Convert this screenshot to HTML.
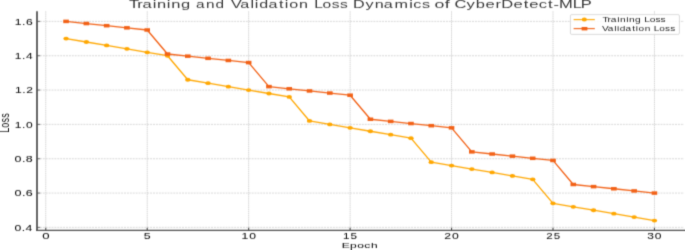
<!DOCTYPE html>
<html><head><meta charset="utf-8"><title>Training and Validation Loss Dynamics of CyberDetect-MLP</title><style>
html,body{margin:0;padding:0;background:#fff;}
body{width:685px;height:250px;overflow:hidden;}
svg{display:block;will-change:transform;}
text{font-family:"Liberation Sans",sans-serif;}
</style></head><body>
<svg width="685" height="250" viewBox="0 0 685 250">
<defs><filter id="soft" x="0" y="0" width="685" height="250" filterUnits="userSpaceOnUse" color-interpolation-filters="sRGB"><feConvolveMatrix order="3" kernelMatrix="1 6 1 4 24 4 1 6 1" divisor="48" edgeMode="duplicate"/></filter></defs>
<g filter="url(#soft)">
<rect width="685" height="250" fill="#fff"/>
<line x1="45.77" y1="11.3" x2="45.77" y2="230.3" stroke="#cfcfcf" stroke-width="0.9" stroke-dasharray="1.4 0.7"/>
<line x1="147.22" y1="11.3" x2="147.22" y2="230.3" stroke="#cfcfcf" stroke-width="0.9" stroke-dasharray="1.4 0.7"/>
<line x1="248.66" y1="11.3" x2="248.66" y2="230.3" stroke="#cfcfcf" stroke-width="0.9" stroke-dasharray="1.4 0.7"/>
<line x1="350.11" y1="11.3" x2="350.11" y2="230.3" stroke="#cfcfcf" stroke-width="0.9" stroke-dasharray="1.4 0.7"/>
<line x1="451.55" y1="11.3" x2="451.55" y2="230.3" stroke="#cfcfcf" stroke-width="0.9" stroke-dasharray="1.4 0.7"/>
<line x1="553" y1="11.3" x2="553" y2="230.3" stroke="#cfcfcf" stroke-width="0.9" stroke-dasharray="1.4 0.7"/>
<line x1="654.44" y1="11.3" x2="654.44" y2="230.3" stroke="#cfcfcf" stroke-width="0.9" stroke-dasharray="1.4 0.7"/>
<line x1="37" y1="227.4" x2="684" y2="227.4" stroke="#cfcfcf" stroke-width="0.8" stroke-dasharray="2.0 0.9"/>
<line x1="37" y1="193.07" x2="684" y2="193.07" stroke="#cfcfcf" stroke-width="0.8" stroke-dasharray="2.0 0.9"/>
<line x1="37" y1="158.73" x2="684" y2="158.73" stroke="#cfcfcf" stroke-width="0.8" stroke-dasharray="2.0 0.9"/>
<line x1="37" y1="124.4" x2="684" y2="124.4" stroke="#cfcfcf" stroke-width="0.8" stroke-dasharray="2.0 0.9"/>
<line x1="37" y1="90.06" x2="684" y2="90.06" stroke="#cfcfcf" stroke-width="0.8" stroke-dasharray="2.0 0.9"/>
<line x1="37" y1="55.73" x2="684" y2="55.73" stroke="#cfcfcf" stroke-width="0.8" stroke-dasharray="2.0 0.9"/>
<line x1="37" y1="21.4" x2="684" y2="21.4" stroke="#cfcfcf" stroke-width="0.8" stroke-dasharray="2.0 0.9"/>
<polyline points="66.06,38.56 86.35,42 106.64,45.43 126.93,48.86 147.22,52.3 167.5,55.73 187.79,79.76 208.08,83.2 228.37,86.63 248.66,90.06 268.95,93.5 289.24,96.93 309.53,120.96 329.82,124.4 350.11,127.83 370.39,131.26 390.68,134.7 410.97,138.13 431.26,162.17 451.55,165.6 471.84,169.03 492.13,172.47 512.42,175.9 532.71,179.33 553,203.37 573.28,206.8 593.57,210.23 613.86,213.67 634.15,217.1 654.44,220.53" fill="none" stroke="#FFA700" stroke-width="1.3" stroke-linejoin="round"/>
<polyline points="66.06,21.4 86.35,23.54 106.64,25.69 126.93,27.83 147.22,29.98 167.5,54.01 187.79,56.16 208.08,58.31 228.37,60.45 248.66,62.6 268.95,86.63 289.24,88.78 309.53,90.92 329.82,93.07 350.11,95.21 370.39,119.25 390.68,121.39 410.97,123.54 431.26,125.69 451.55,127.83 471.84,151.87 492.13,154.01 512.42,156.16 532.71,158.3 553,160.45 573.28,184.48 593.57,186.63 613.86,188.77 634.15,190.92 654.44,193.07" fill="none" stroke="#F26116" stroke-width="1.3" stroke-linejoin="round"/>
<ellipse cx="66.06" cy="38.56" rx="2.7" ry="1.9" fill="#FFA700"/>
<ellipse cx="86.35" cy="42" rx="2.7" ry="1.9" fill="#FFA700"/>
<ellipse cx="106.64" cy="45.43" rx="2.7" ry="1.9" fill="#FFA700"/>
<ellipse cx="126.93" cy="48.86" rx="2.7" ry="1.9" fill="#FFA700"/>
<ellipse cx="147.22" cy="52.3" rx="2.7" ry="1.9" fill="#FFA700"/>
<ellipse cx="167.5" cy="55.73" rx="2.7" ry="1.9" fill="#FFA700"/>
<ellipse cx="187.79" cy="79.76" rx="2.7" ry="1.9" fill="#FFA700"/>
<ellipse cx="208.08" cy="83.2" rx="2.7" ry="1.9" fill="#FFA700"/>
<ellipse cx="228.37" cy="86.63" rx="2.7" ry="1.9" fill="#FFA700"/>
<ellipse cx="248.66" cy="90.06" rx="2.7" ry="1.9" fill="#FFA700"/>
<ellipse cx="268.95" cy="93.5" rx="2.7" ry="1.9" fill="#FFA700"/>
<ellipse cx="289.24" cy="96.93" rx="2.7" ry="1.9" fill="#FFA700"/>
<ellipse cx="309.53" cy="120.96" rx="2.7" ry="1.9" fill="#FFA700"/>
<ellipse cx="329.82" cy="124.4" rx="2.7" ry="1.9" fill="#FFA700"/>
<ellipse cx="350.11" cy="127.83" rx="2.7" ry="1.9" fill="#FFA700"/>
<ellipse cx="370.39" cy="131.26" rx="2.7" ry="1.9" fill="#FFA700"/>
<ellipse cx="390.68" cy="134.7" rx="2.7" ry="1.9" fill="#FFA700"/>
<ellipse cx="410.97" cy="138.13" rx="2.7" ry="1.9" fill="#FFA700"/>
<ellipse cx="431.26" cy="162.17" rx="2.7" ry="1.9" fill="#FFA700"/>
<ellipse cx="451.55" cy="165.6" rx="2.7" ry="1.9" fill="#FFA700"/>
<ellipse cx="471.84" cy="169.03" rx="2.7" ry="1.9" fill="#FFA700"/>
<ellipse cx="492.13" cy="172.47" rx="2.7" ry="1.9" fill="#FFA700"/>
<ellipse cx="512.42" cy="175.9" rx="2.7" ry="1.9" fill="#FFA700"/>
<ellipse cx="532.71" cy="179.33" rx="2.7" ry="1.9" fill="#FFA700"/>
<ellipse cx="553" cy="203.37" rx="2.7" ry="1.9" fill="#FFA700"/>
<ellipse cx="573.28" cy="206.8" rx="2.7" ry="1.9" fill="#FFA700"/>
<ellipse cx="593.57" cy="210.23" rx="2.7" ry="1.9" fill="#FFA700"/>
<ellipse cx="613.86" cy="213.67" rx="2.7" ry="1.9" fill="#FFA700"/>
<ellipse cx="634.15" cy="217.1" rx="2.7" ry="1.9" fill="#FFA700"/>
<ellipse cx="654.44" cy="220.53" rx="2.7" ry="1.9" fill="#FFA700"/>
<rect x="63.26" y="19.65" width="5.6" height="3.5" fill="#F26116"/>
<rect x="83.55" y="21.79" width="5.6" height="3.5" fill="#F26116"/>
<rect x="103.84" y="23.94" width="5.6" height="3.5" fill="#F26116"/>
<rect x="124.13" y="26.08" width="5.6" height="3.5" fill="#F26116"/>
<rect x="144.41" y="28.23" width="5.6" height="3.5" fill="#F26116"/>
<rect x="164.7" y="52.26" width="5.6" height="3.5" fill="#F26116"/>
<rect x="184.99" y="54.41" width="5.6" height="3.5" fill="#F26116"/>
<rect x="205.28" y="56.56" width="5.6" height="3.5" fill="#F26116"/>
<rect x="225.57" y="58.7" width="5.6" height="3.5" fill="#F26116"/>
<rect x="245.86" y="60.85" width="5.6" height="3.5" fill="#F26116"/>
<rect x="266.15" y="84.88" width="5.6" height="3.5" fill="#F26116"/>
<rect x="286.44" y="87.03" width="5.6" height="3.5" fill="#F26116"/>
<rect x="306.73" y="89.17" width="5.6" height="3.5" fill="#F26116"/>
<rect x="327.02" y="91.32" width="5.6" height="3.5" fill="#F26116"/>
<rect x="347.31" y="93.46" width="5.6" height="3.5" fill="#F26116"/>
<rect x="367.59" y="117.5" width="5.6" height="3.5" fill="#F26116"/>
<rect x="387.88" y="119.64" width="5.6" height="3.5" fill="#F26116"/>
<rect x="408.17" y="121.79" width="5.6" height="3.5" fill="#F26116"/>
<rect x="428.46" y="123.94" width="5.6" height="3.5" fill="#F26116"/>
<rect x="448.75" y="126.08" width="5.6" height="3.5" fill="#F26116"/>
<rect x="469.04" y="150.12" width="5.6" height="3.5" fill="#F26116"/>
<rect x="489.33" y="152.26" width="5.6" height="3.5" fill="#F26116"/>
<rect x="509.62" y="154.41" width="5.6" height="3.5" fill="#F26116"/>
<rect x="529.91" y="156.55" width="5.6" height="3.5" fill="#F26116"/>
<rect x="550.2" y="158.7" width="5.6" height="3.5" fill="#F26116"/>
<rect x="570.48" y="182.73" width="5.6" height="3.5" fill="#F26116"/>
<rect x="590.77" y="184.88" width="5.6" height="3.5" fill="#F26116"/>
<rect x="611.06" y="187.02" width="5.6" height="3.5" fill="#F26116"/>
<rect x="631.35" y="189.17" width="5.6" height="3.5" fill="#F26116"/>
<rect x="651.64" y="191.32" width="5.6" height="3.5" fill="#F26116"/>
<line x1="37" y1="11.3" x2="37" y2="230.9" stroke="#4d4d4d" stroke-width="1.7"/>
<line x1="36.15" y1="230.3" x2="685" y2="230.3" stroke="#4d4d4d" stroke-width="1.2"/>
<line x1="45.77" y1="230.3" x2="45.77" y2="227.8" stroke="#4d4d4d" stroke-width="1.1"/>
<line x1="147.22" y1="230.3" x2="147.22" y2="227.8" stroke="#4d4d4d" stroke-width="1.1"/>
<line x1="248.66" y1="230.3" x2="248.66" y2="227.8" stroke="#4d4d4d" stroke-width="1.1"/>
<line x1="350.11" y1="230.3" x2="350.11" y2="227.8" stroke="#4d4d4d" stroke-width="1.1"/>
<line x1="451.55" y1="230.3" x2="451.55" y2="227.8" stroke="#4d4d4d" stroke-width="1.1"/>
<line x1="553" y1="230.3" x2="553" y2="227.8" stroke="#4d4d4d" stroke-width="1.1"/>
<line x1="654.44" y1="230.3" x2="654.44" y2="227.8" stroke="#4d4d4d" stroke-width="1.1"/>
<line x1="37" y1="227.4" x2="40.2" y2="227.4" stroke="#4d4d4d" stroke-width="0.8"/>
<line x1="37" y1="193.07" x2="40.2" y2="193.07" stroke="#4d4d4d" stroke-width="0.8"/>
<line x1="37" y1="158.73" x2="40.2" y2="158.73" stroke="#4d4d4d" stroke-width="0.8"/>
<line x1="37" y1="124.4" x2="40.2" y2="124.4" stroke="#4d4d4d" stroke-width="0.8"/>
<line x1="37" y1="90.06" x2="40.2" y2="90.06" stroke="#4d4d4d" stroke-width="0.8"/>
<line x1="37" y1="55.73" x2="40.2" y2="55.73" stroke="#4d4d4d" stroke-width="0.8"/>
<line x1="37" y1="21.4" x2="40.2" y2="21.4" stroke="#4d4d4d" stroke-width="0.8"/>
<rect x="570.4" y="14.6" width="109" height="19.8" rx="1.6" ry="1.2" fill="#ffffff" fill-opacity="0.85" stroke="#d0d0d0" stroke-width="0.8"/>
<line x1="573.6" y1="19.6" x2="594.8" y2="19.6" stroke="#FFA700" stroke-width="1.1"/>
<ellipse cx="584.3" cy="19.5" rx="2.6" ry="1.9" fill="#FFA700"/>
<line x1="573.6" y1="28.6" x2="594.8" y2="28.6" stroke="#F26116" stroke-width="1.1"/>
<rect x="581.6" y="27" width="5.8" height="3.4" fill="#F26116"/>
<text transform="scale(1.6016,1)" x="80.57 85.7 88.96 95.36 98.07 104.19 106.89 112.95" y="7.9" font-size="10.3" fill="#3a3a3a">Training</text>
<text transform="scale(1.4914,1)" x="131.35 138.08 144.43" y="7.9" font-size="10.3" fill="#3a3a3a">and</text>
<text transform="scale(1.5637,1)" x="147.71 153.62 160.18 162.97 165.75 171.69 178.5 182.18 184.91 191.17" y="7.9" font-size="10.3" fill="#3a3a3a">Validation</text>
<text transform="scale(1.5090,1)" x="208.17 213.76 219.93 225.28" y="7.9" font-size="10.3" fill="#3a3a3a">Loss</text>
<text transform="scale(1.5679,1)" x="225.19 233.1 238.95 244.77 251.66 261.02 263.59 269.12" y="7.9" font-size="10.3" fill="#3a3a3a">Dynamics</text>
<text transform="scale(1.7252,1)" x="251.93 257.78" y="7.9" font-size="10.3" fill="#3a3a3a">of</text>
<text transform="scale(1.6071,1)" x="282.76 290.25 296 302.05 308.36 311.95 319.56 325.86 329.38 335.21 341.04 344.45 347.84 356.39 361.43" y="7.9" font-size="10.3" fill="#3a3a3a">CyberDetect-MLP</text>
<text transform="scale(1.5879,1)" x="26.69" y="238.7" font-size="8.3" fill="#111111" style="stroke:#111111;stroke-width:0.05px">0</text>
<text transform="scale(1.4993,1)" x="95.91" y="238.7" font-size="8.3" fill="#111111" style="stroke:#111111;stroke-width:0.05px">5</text>
<text transform="scale(1.4628,1)" x="165.17 170.33" y="238.7" font-size="8.3" fill="#111111" style="stroke:#111111;stroke-width:0.05px">10</text>
<text transform="scale(1.4126,1)" x="242.82 248.11" y="238.7" font-size="8.3" fill="#111111" style="stroke:#111111;stroke-width:0.05px">15</text>
<text transform="scale(1.4703,1)" x="302.2 307.4" y="238.7" font-size="8.3" fill="#111111" style="stroke:#111111;stroke-width:0.05px">20</text>
<text transform="scale(1.3943,1)" x="391.85 397.18" y="238.7" font-size="8.3" fill="#111111" style="stroke:#111111;stroke-width:0.05px">25</text>
<text transform="scale(1.4545,1)" x="445.08 450.18" y="238.7" font-size="8.3" fill="#111111" style="stroke:#111111;stroke-width:0.05px">30</text>
<text transform="scale(1.4683,1)" x="10.08 15.04 17.65" y="24.6" font-size="8.3" fill="#111111" style="stroke:#111111;stroke-width:0.05px">1.6</text>
<text transform="scale(1.4384,1)" x="10.34 15.35 18.01" y="58.93" font-size="8.3" fill="#111111" style="stroke:#111111;stroke-width:0.05px">1.4</text>
<text transform="scale(1.4576,1)" x="10.22 15.3 17.93" y="93.26" font-size="8.3" fill="#111111" style="stroke:#111111;stroke-width:0.05px">1.2</text>
<text transform="scale(1.4482,1)" x="10.26 15.28 17.94" y="127.6" font-size="8.3" fill="#111111" style="stroke:#111111;stroke-width:0.05px">1.0</text>
<text transform="scale(1.5023,1)" x="9.71 14.6 17.17" y="161.93" font-size="8.3" fill="#111111" style="stroke:#111111;stroke-width:0.05px">0.8</text>
<text transform="scale(1.5127,1)" x="9.62 14.47 17" y="196.27" font-size="8.3" fill="#111111" style="stroke:#111111;stroke-width:0.05px">0.6</text>
<text transform="scale(1.4739,1)" x="9.85 14.75 17.34" y="230.6" font-size="8.3" fill="#111111" style="stroke:#111111;stroke-width:0.05px">0.4</text>
<text transform="scale(1.5172,1)" x="225.19 230.63 235.43 240.08 244.56" y="247.7" font-size="7.9" fill="#111111" style="stroke:#111111;stroke-width:0.05px">Epoch</text>
<text transform="scale(1.5900,1)" x="378.86 382.1 384.19 388.23 389.98 393.84 395.59 399.44 403 405.22 408.58 412.29 415.49" y="21.6" font-size="6.4" fill="#262626">Training Loss</text>
<text transform="scale(1.5692,1)" x="383.59 387.29 391.39 393.14 394.89 398.61 402.87 405.17 406.89 410.81 414.37 416.66 420.09 423.86 427.13" y="31.3" font-size="6.4" fill="#262626">Validation Loss</text>
<text transform="translate(9.1,0) rotate(-90) scale(0.6940,1)" x="-191.21 -184.15 -176.36 -169.6" y="0" font-size="13.0" fill="#111111">Loss</text>
</g>
</svg>
</body></html>
